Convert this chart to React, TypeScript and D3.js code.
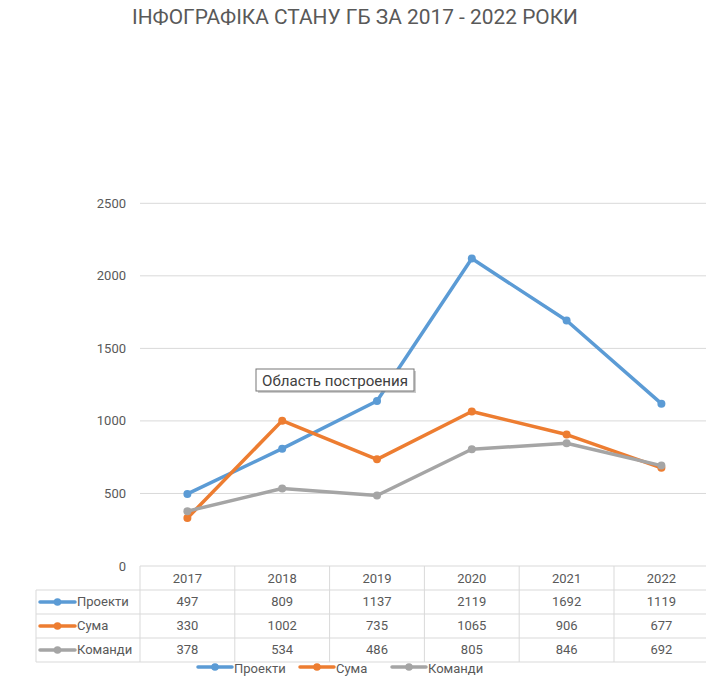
import React from "react";
import * as d3 from "d3";

const years = ["2017", "2018", "2019", "2020", "2021", "2022"];
const seriesNames = ["Проекти", "Сума", "Команди"];
const projects = [497, 809, 1137, 2119, 1692, 1119];
const sums = [330, 1002, 735, 1065, 906, 677];
const teams = [378, 534, 486, 805, 846, 692];
const colors = ["#5B9BD5", "#ED7D31", "#A5A5A5"];
const yTicks = [0, 500, 1000, 1500, 2000, 2500];
const title = "ІНФОГРАФІКА СТАНУ ГБ ЗА 2017 - 2022 РОКИ";
const tooltipText = "Область построения";

const W = 706;
const H = 680;
const FONT = "Roboto, 'Open Sans', sans-serif";
const TXT = "#595959";
const GRID = "#D9D9D9";

export default function App() {
  const seriesValues = [projects, sums, teams];
  const left = 140;
  const colW = 94.8;
  const right = left + colW * years.length;
  const x = d3
    .scaleBand<string>()
    .domain(years)
    .range([left, right]);
  const y = d3.scaleLinear().domain([0, 2500]).range([566, 203.3]);
  const line = d3
    .line<number>()
    .x((_, i) => (x(years[i]) as number) + x.bandwidth() / 2)
    .y((d) => y(d));

  const rowTop = 566;
  const rowH = 24;
  const tableLeft = 36;
  const fs = 13;

  return (
    <svg
      width={W}
      height={H}
      style={{ position: "absolute", left: 0, top: 0, background: "#fff" }}
      fontFamily={FONT}
    >
      <rect width={W} height={H} fill="#fff" />
      <text
        x={355}
        y={24}
        textAnchor="middle"
        fontSize={20}
        fill={TXT}
        textLength={446}
        lengthAdjust="spacingAndGlyphs"
      >
        {title}
      </text>

      {/* gridlines */}
      {yTicks.map((t) => (
        <g key={t}>
          {t > 0 && (
            <line x1={left} x2={right} y1={y(t)} y2={y(t)} stroke={GRID} strokeWidth={1} />
          )}
          <text x={126} y={y(t) + 4.5} textAnchor="end" fontSize={fs} fill={TXT}>
            {t}
          </text>
        </g>
      ))}

      {/* table grid */}
      <g stroke={GRID} strokeWidth={1} fill="none">
        <line x1={left} x2={right} y1={rowTop} y2={rowTop} />
        {[1, 2, 3, 4].map((r) => (
          <line key={r} x1={tableLeft} x2={right} y1={rowTop + r * rowH} y2={rowTop + r * rowH} />
        ))}
        <line x1={tableLeft} x2={tableLeft} y1={rowTop + rowH} y2={rowTop + 4 * rowH} />
        {years.map((yr) => (
          <line
            key={yr}
            x1={x(yr) as number}
            x2={x(yr) as number}
            y1={rowTop}
            y2={rowTop + 4 * rowH}
          />
        ))}
        <line x1={right} x2={right} y1={rowTop} y2={rowTop + 4 * rowH} />
      </g>

      {/* header */}
      {years.map((yr) => (
        <text
          key={yr}
          x={(x(yr) as number) + x.bandwidth() / 2}
          y={rowTop + rowH / 2 + 4.5}
          textAnchor="middle"
          fontSize={fs}
          fill={TXT}
        >
          {yr}
        </text>
      ))}

      {/* rows */}
      {seriesNames.map((name, si) => {
        const cy = rowTop + (si + 1) * rowH + rowH / 2;
        return (
          <g key={name}>
            <line x1={40} x2={75} y1={cy} y2={cy} stroke={colors[si]} strokeWidth={3.5} strokeLinecap="round" />
            <circle cx={57.5} cy={cy} r={3.8} fill={colors[si]} />
            <text x={77} y={cy + 3.5} fontSize={fs} fill={TXT}>
              {name}
            </text>
            {seriesValues[si].map((v, i) => (
              <text
                key={i}
                x={(x(years[i]) as number) + x.bandwidth() / 2}
                y={cy + 3.5}
                textAnchor="middle"
                fontSize={fs}
                fill={TXT}
              >
                {v}
              </text>
            ))}
          </g>
        );
      })}

      {/* lines */}
      {seriesValues.map((vals, si) => (
        <g key={si}>
          <path
            d={line(vals) || ""}
            fill="none"
            stroke={colors[si]}
            strokeWidth={3.5}
            strokeLinejoin="round"
            strokeLinecap="round"
          />
          {vals.map((v, i) => (
            <circle
              key={i}
              cx={(x(years[i]) as number) + x.bandwidth() / 2}
              cy={y(v)}
              r={4}
              fill={colors[si]}
            />
          ))}
        </g>
      ))}

      {/* bottom legend */}
      {seriesNames.map((name, si) => {
        const lx = [198, 300, 392][si];
        const ly = 667;
        return (
          <g key={name}>
            <line x1={lx} x2={lx + 34} y1={ly} y2={ly} stroke={colors[si]} strokeWidth={3.5} strokeLinecap="round" />
            <circle cx={lx + 17} cy={ly} r={3.8} fill={colors[si]} />
            <text x={lx + 36} y={673.2} fontSize={fs} fill={TXT}>
              {name}
            </text>
          </g>
        );
      })}

      {/* tooltip */}
      <g>
        <rect x={258} y={371} width={158} height={22} fill="#9a9a9a" opacity={0.5} />
        <rect x={256} y={369} width={158} height={22} fill="#fff" stroke="#767676" strokeWidth={1} />
        <text
          x={262}
          y={385.5}
          fontSize={14.5}
          fill="#404040"
          textLength={146}
          lengthAdjust="spacingAndGlyphs"
        >
          {tooltipText}
        </text>
      </g>
    </svg>
  );
}
